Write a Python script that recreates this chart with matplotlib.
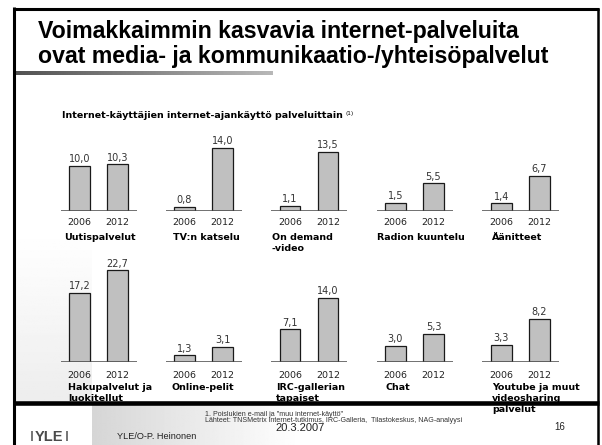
import numpy as np
import matplotlib.pyplot as plt

# Internet-ajankäyttö palveluittain, 2006 vs 2012 (%)
services = ['Uutispalvelut', 'TV:n katselu', 'On demand\n-video', 'Radion kuuntelu', 'Äänitteet',
            'Hakupalvelut ja\nluokitellut', 'Online-pelit', 'IRC-gallerian\ntapaiset', 'Chat',
            'Youtube ja muut\nvideosharing\npalvelut']
years = ['2006', '2012']
values_2006 = [10.0, 0.8, 1.1, 1.5, 1.4, 17.2, 1.3, 7.1, 3.0, 3.3]
values_2012 = [10.3, 14.0, 13.5, 5.5, 6.7, 22.7, 3.1, 14.0, 5.3, 8.2]

# layout in pixels (slide is 602 x 445)
W, H = 602, 445
panel_cx = [98.5, 203.5, 309, 414.5, 520.5]
row_base = [210.6, 361.7]
px_per_unit = [4.5, 4.5, 4.37, 4.98, 5.2, 4.02, 4.84, 4.57, 5.2, 5.2]
label_x = [64, 173, 272, 377, 491, 68, 172, 276, 385, 492]
label_top = [233, 383]
year_pad = [5.5, 6.5]

fig = plt.figure(figsize=(W / 100, H / 100), dpi=100)
bg = fig.add_axes([0, 0, 1, 1])
bg.set_xlim(0, W)
bg.set_ylim(H, 0)
bg.axis('off')

# template shading
left_shade = np.linspace(1.0, 0.93, 100).reshape(-1, 1)
bg.imshow(left_shade, cmap='gray', vmin=0, vmax=1, extent=(15, 92, 401, 230), aspect='auto', zorder=0)
foot_shade = np.linspace(0.80, 1.0, 200).reshape(1, -1) ** 0.8
bg.imshow(foot_shade, cmap='gray', vmin=0, vmax=1, extent=(92, 300, 445, 405), aspect='auto', zorder=0)
title_bar = np.linspace(0.32, 0.72, 200).reshape(1, -1)
bg.imshow(title_bar, cmap='gray', vmin=0, vmax=1, extent=(14, 273, 75, 71), aspect='auto', zorder=1)

# frame
bg.plot([13.5, 13.5], [7, H], color='black', lw=2.2, solid_capstyle='butt', zorder=10)
bg.plot([12.5, 599], [8.5, 8.5], color='black', lw=2.2, solid_capstyle='butt', zorder=10)
bg.plot([598.3, 598.3], [7.5, H], color='black', lw=1.8, solid_capstyle='butt', zorder=10)
bg.plot([12.5, 599], [403, 403], color='black', lw=3.3, solid_capstyle='butt', zorder=10)

# title
bg.text(38, 38, 'Voimakkaimmin kasvavia internet-palveluita', fontsize=16.7, fontweight='bold',
        family='Liberation Sans', va='baseline', ha='left')
bg.text(38, 63, 'ovat media- ja kommunikaatio-/yhteisöpalvelut', fontsize=16.7, fontweight='bold',
        family='Liberation Sans', va='baseline', ha='left')

sub = bg.text(62, 116, 'Internet-käyttäjien internet-ajankäyttö palveluittain', fontsize=6.8,
              fontweight='bold', family='DejaVu Sans', va='center', ha='left')
fig.canvas.draw()
bb = sub.get_window_extent()
bg.text(bb.x1 + 3, 113.5, '(1)', fontsize=4.2, family='DejaVu Sans', va='center', ha='left')

# panels
for i, name in enumerate(services):
    row = i // 5
    cx = panel_cx[i % 5]
    base = row_base[row]
    height_px = 110
    ax = fig.add_axes([(cx - 38) / W, (H - base) / H, 76 / W, height_px / H])
    ax.set_facecolor('none')
    vals = [values_2006[i], values_2012[i]]
    ax.bar([0, 1], vals, width=0.55, color='#c0c0c0', edgecolor='#1a1a1a', linewidth=0.9, zorder=2)
    ax.axhline(0, color='#4a4a4a', lw=1.1, zorder=3)
    ax.set_xlim(-0.5, 1.5)
    ax.set_ylim(0, height_px / px_per_unit[i])
    for x, v in zip([0, 1], vals):
        ax.annotate(f'{v:.1f}'.replace('.', ','), (x, v), xytext=(0, 1.2), textcoords='offset points',
                    ha='center', va='bottom', fontsize=7, color='#333333', family='DejaVu Sans')
    ax.set_xticks([0, 1], years)
    ax.set_yticks([])
    ax.tick_params(axis='x', length=0, pad=year_pad[row], labelsize=6.8, labelcolor='#222222')
    for s in ax.spines.values():
        s.set_visible(False)
    bg.text(label_x[i], label_top[row], name, fontsize=6.8, fontweight='bold', family='DejaVu Sans',
            va='top', ha='left', linespacing=1.25, zorder=5)

# footer
bg.text(49, 441, 'YLE', fontsize=10.5, fontweight='bold', family='Liberation Sans', color='#4a4a4a',
        ha='center', va='baseline')
bg.plot([31.5, 31.5], [430.8, 441], color='#6a6a6a', lw=1.3, solid_capstyle='butt')
bg.plot([66.5, 66.5], [430.8, 441], color='#6a6a6a', lw=1.3, solid_capstyle='butt')
bg.text(117, 436.5, 'YLE/O-P. Heinonen', fontsize=6.6, family='Liberation Sans', color='#222222',
        ha='left', va='center')
bg.text(205, 414, '1. Poislukien e-mail ja "muu internet-käyttö"', fontsize=5.1,
        family='Liberation Sans', color='#333333', ha='left', va='center')
bg.text(205, 421, 'Lähteet: TNSMetrix internet-tutkimus, IRC-Galleria,  Tilastokeskus, NAG-analyysi',
        fontsize=5.1, family='Liberation Sans', color='#333333', ha='left', va='center')
bg.text(300, 428, '20.3.2007', fontsize=8, family='Liberation Sans', color='#222222',
        ha='center', va='center')
bg.text(560, 427.5, '16', fontsize=7, family='Liberation Sans', color='#222222',
        ha='center', va='center')

fig.savefig('out.png', dpi=100)
